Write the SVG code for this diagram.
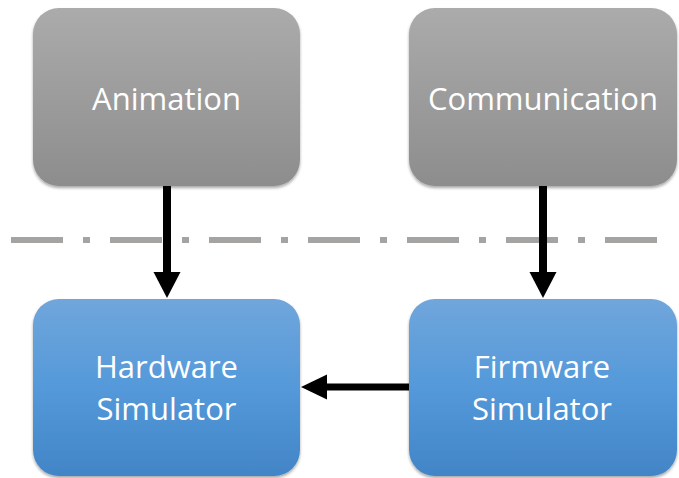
<svg xmlns="http://www.w3.org/2000/svg" width="679" height="478" viewBox="0 0 679 478">
<style>
.lbl{font-family:"Open Sans","Liberation Sans",sans-serif;font-size:31px;fill:#ffffff;text-anchor:middle}
.conn{stroke:#000;fill:none}
</style>
<defs>
<linearGradient id="gGray" x1="0" y1="0" x2="0" y2="1">
<stop offset="0" stop-color="#ababab"/>
<stop offset="1" stop-color="#8d8d8d"/>
</linearGradient>
<linearGradient id="gBlue" x1="0" y1="0" x2="0" y2="1">
<stop offset="0" stop-color="#70a6db"/>
<stop offset="0.5" stop-color="#5499da"/>
<stop offset="1" stop-color="#4285c6"/>
</linearGradient>
<filter id="sh" x="-10%" y="-10%" width="120%" height="120%">
<feGaussianBlur in="SourceAlpha" stdDeviation="1.5"/>
<feOffset dx="0" dy="1.5" result="b"/>
<feComponentTransfer><feFuncA type="linear" slope="0.35"/></feComponentTransfer>
<feMerge><feMergeNode/><feMergeNode in="SourceGraphic"/></feMerge>
</filter>
</defs>
<rect width="679" height="478" fill="#ffffff"/>
<line x1="11" y1="240" x2="660" y2="240" stroke="#a6a3a3" stroke-width="6" stroke-dasharray="52 20 7 20"/>
<g id="animation">
<rect x="33" y="8" width="267" height="178" rx="26" fill="url(#gGray)" filter="url(#sh)"/>
<text class="lbl" x="166.5" y="110">Animation</text>
</g>
<g id="communication">
<rect x="409" y="8" width="268" height="178" rx="26" fill="url(#gGray)" filter="url(#sh)"/>
<text class="lbl" x="543" y="110">Communication</text>
</g>
<g id="hardware">
<rect x="33" y="299" width="267" height="177" rx="26" fill="url(#gBlue)" filter="url(#sh)"/>
<text class="lbl" x="166.5" y="378">Hardware</text>
<text class="lbl" x="166.5" y="420">Simulator</text>
</g>
<g id="firmware">
<rect x="409" y="299" width="268" height="177" rx="26" fill="url(#gBlue)" filter="url(#sh)"/>
<text class="lbl" x="542" y="378">Firmware</text>
<text class="lbl" x="542" y="420">Simulator</text>
</g>
<g id="connectors">
<line class="conn" x1="167" y1="186" x2="167" y2="273" stroke-width="8"/>
<polygon points="153.5,272 180.5,272 167,298"/>
<line class="conn" x1="543" y1="186" x2="543" y2="273" stroke-width="8"/>
<polygon points="529.5,272 556.5,272 543,298"/>
<line class="conn" x1="409" y1="387" x2="326" y2="387" stroke-width="7"/>
<polygon points="327,374.5 327,399.5 301,387"/>
</g>
</svg>
